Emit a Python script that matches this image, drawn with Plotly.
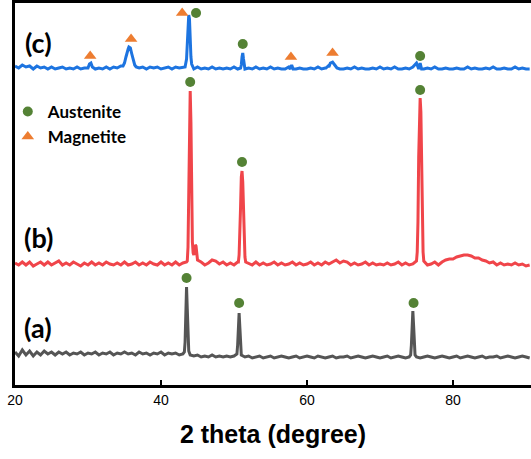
import numpy as np
import plotly.graph_objects as go

# ---------------- data (intensity in arbitrary, vertically offset units) ----------------
grid_start, grid_step = 20.0, 0.5

a_base = [35,31,37,32,36,31,35,32,36,33,35,32,35,33,35,32,34,33,35,32,34,
          33,35,32,34,33,35,32,34,33,35,33,34,32,35,33,34,32,34,33,35,
          32,34,33,34,32,33,33,32,31,32,30,31,30,32,30,31,30,31,30,31,
          31,30,30,31,29,30,31,29,30,31,29,30,31,30,29,30,31,29,30,31,
          30,29,31,30,29,30,31,29,30,30,31,29,30,31,30,29,30,31,30,29,
          30,31,29,30,31,30,29,30,31,30,29,30,31,30,29,30,31,30,29,30,
          31,29,30,31,30,29,30,31,29,30,30,31,29,30,31,30,29,30,31,30,29]
a_peak_x = [43.2,43.3,43.4,43.5,43.6,43.7,43.8, 50.4,50.5,50.6,50.7,50.8,50.9,51.0, 74.2,74.3,74.4,74.5,74.6,74.7,74.8]
a_peak_y = [35,45,75,100,78,48,36, 33,42,62,74,60,40,32, 32,42,64,76,62,42,32]

b_base = [124,122,125,122,125,121,123,125,122,125,122,124,126,122,124,122,125,123,121,124,122,
          125,122,124,122,125,123,122,124,122,125,122,123,125,122,124,122,125,123,122,125,
          122,124,122,125,122,124,125,124,125,123,125,122,124,127,126,123,125,122,124,122,
          125,124,123,124,122,125,122,124,122,123,125,122,124,122,123,125,122,124,122,123,
          125,122,124,122,125,123,125,127,124,126,125,122,124,122,123,125,122,124,122,123,
          122,124,122,123,125,122,124,122,123,124,122,124,122,123,125,122,125,127,128,128,
          130,131,132,132,131,129,129,127,126,124,125,122,124,122,123,122,124,122,123,121,122]
b_peak_x = [43.6,43.7,43.8,43.9,44.0,44.1,44.2,44.3,44.4,44.5,44.6,44.7,44.8,44.9,45.0,
            50.6,50.7,50.8,50.9,51.0,51.1,51.2,51.3,51.4,51.5,51.6,
            75.0,75.1,75.2,75.3,75.4,75.5,75.6,75.7,75.8,75.9,76.0]
b_peak_y = [126,140,195,270,296,265,185,145,134,132,138,142,141,134,127,
            125,132,150,180,210,216,205,172,145,130,125,
            126,135,165,230,280,289,275,220,160,135,126]

c_base = [321,319,322,320,321,318,321,319,320,318,320,318,319,320,318,319,318,320,318,319,319,
          320,318,319,318,320,318,320,319,321,322,338,333,321,319,320,318,320,319,320,318,
          319,320,318,320,319,320,328,345,318,320,318,319,318,320,318,319,318,319,318,320,
          318,322,318,319,318,320,318,319,318,320,318,319,318,318,320,320,318,319,318,318,
          319,318,320,318,319,320,325,320,318,318,319,318,320,318,319,318,318,319,318,320,
          318,319,318,320,318,318,319,318,320,324,318,318,319,318,320,318,318,319,318,318,
          319,318,318,320,318,319,318,318,319,318,320,318,318,319,318,318,320,318,319,318,318]
c_peak_x = [30.0,30.2,30.4,30.6,
            34.8,35.0,35.2,35.4,35.6,35.8,36.0,36.2,36.4,36.6,
            43.3,43.5,43.6,43.7,43.8,43.9,44.0,44.1,44.2,44.4,
            50.9,51.0,51.1,51.2,51.3,51.4,51.5,
            57.7,57.9,58.1,
            62.6,62.9,63.2,63.5,63.8,64.1,
            75.3,75.5,75.7]
c_peak_y = [319,323,324,320,
            321,324,330,337,340,339,333,326,322,320,
            320,328,345,365,372,368,345,330,323,319,
            319,322,330,334,328,321,318,
            318,322,318,
            319,321,324,325,322,319,
            318,324,318]

# phase markers
aus_a_x, aus_a_y = [43.5, 50.7, 74.6], [109, 84, 84]
aus_b_x, aus_b_y = [44.0, 51.1, 75.5], [305, 225, 297]
aus_c_x, aus_c_y = [44.8, 51.2, 75.5], [374, 343, 331]
mag_c_x, mag_c_y = [30.3, 35.9, 42.9, 57.8, 63.5], [331, 348, 374, 330, 334]

labels = ["(a)", "(b)", "(c)"]
label_y = [60, 150, 345]
x_ticks = [20, 40, 60, 80]


def build(base, px, py):
    pts = {round(grid_start + i * grid_step, 2): v for i, v in enumerate(base)}
    for x, y in zip(px, py):
        pts[round(x, 2)] = y
    xs = sorted(pts)
    return xs, [pts[x] for x in xs]


fig = go.Figure()
for (base, px, py), col in [((a_base, a_peak_x, a_peak_y), "#555555"),
                             ((b_base, b_peak_x, b_peak_y), "#f0454a"),
                             ((c_base, c_peak_x, c_peak_y), "#1d74e0")]:
    xs, ys = build(base, px, py)
    fig.add_trace(go.Scatter(x=xs, y=ys, mode="lines", line=dict(color=col, width=3),
                             showlegend=False, hoverinfo="skip"))

green, orange = "#548235", "#ed7d31"
for i, (xx, yy) in enumerate([(aus_a_x, aus_a_y), (aus_b_x, aus_b_y), (aus_c_x, aus_c_y)]):
    fig.add_trace(go.Scatter(x=xx, y=yy, mode="markers",
                             marker=dict(symbol="circle", size=10, color=green),
                             name="<b>Austenite</b>", showlegend=(i == 0), legendrank=1))
fig.add_trace(go.Scatter(x=mag_c_x, y=mag_c_y, mode="markers",
                         marker=dict(symbol="triangle-up", size=11, color=orange),
                         name="<b>Magnetite</b>", showlegend=True, legendrank=2))

for t, yv in zip(labels, label_y):
    fig.add_annotation(x=0.045, xref="paper", y=yv, yref="y", text="<b>%s</b>" % t,
                       showarrow=False, font=dict(family="Lato", size=27, color="black"),
                       xanchor="center", yanchor="middle")

fig.update_layout(
    width=531, height=459,
    margin=dict(l=15, r=0, t=3, b=74),
    paper_bgcolor="white", plot_bgcolor="white",
    legend=dict(x=-0.014, y=0.762, xanchor="left", yanchor="top",
                font=dict(family="Lato", size=17, color="black"),
                bgcolor="rgba(0,0,0,0)", tracegroupgap=0, itemsizing="trace"),
    xaxis=dict(range=[20, 20 + 516 / 7.3], tickvals=x_ticks, ticks="inside", ticklen=5,
               tickwidth=2, tickcolor="black", showline=True, linewidth=3, linecolor="black",
               mirror=True, showgrid=False, zeroline=False,
               tickfont=dict(family="Liberation Sans", size=14, color="black"),
               title=dict(text="<b>2 theta (degree)</b>", standoff=19,
                          font=dict(family="Liberation Sans", size=25, color="black"))),
    yaxis=dict(range=[2, 384], showticklabels=False, ticks="", showgrid=False,
               zeroline=False, showline=True, linewidth=3, linecolor="black"),
)

fig.write_html("out.html", config={"displayModeBar": False},
               post_script="document.body.style.margin='0px';document.body.style.overflow='hidden';")
